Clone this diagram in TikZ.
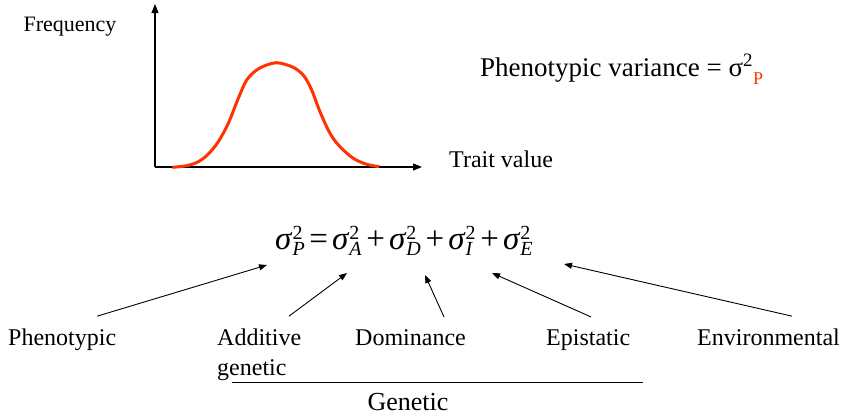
\documentclass[tikz,border=0pt]{standalone}
\usepackage{fontspec}
\setmainfont{Liberation Serif}
\usetikzlibrary{arrows.meta}
\definecolor{curvered}{HTML}{FF3300}
\newcommand{\sgm}[1]{\mbox{\textit{σ}}^{\mbox{\fontsize{20}{20}\selectfont 2}}_{\mbox{\fontsize{20}{20}\selectfont\textit{#1}}}}
\newcommand{\opsym}[1]{\mkern3mu\mbox{#1}\mkern3mu}
\begin{document}
\begin{tikzpicture}[x=1pt,y=-1pt,
 lbl/.style={anchor=base west, inner sep=0pt, font=\fontsize{24}{24}\selectfont},
 conn/.style={line width=0.9pt, -{Triangle[length=8pt,width=6pt]}},
 axisline/.style={line width=1.1pt, -{Triangle[length=9pt,width=7pt]}}]
\useasboundingbox (0,0) rectangle (864,416);
% axes
\coordinate (O) at (155,167);
\coordinate (ytop) at (155,4);
\coordinate (xend) at (422,167);
\draw[axisline] (O) -- (ytop);
\draw[axisline] (O) -- (xend);
\draw[curvered, line width=3pt] plot[smooth, tension=0.55] coordinates {
 (172.3,167.3) (186.7,165.7) (198.3,161.7) (208.3,154) (218.3,141.7) (228.3,123.3)
 (238.3,98.3) (246.7,80) (256.7,70) (266.7,65) (276,62.7) (285,64.3) (295,68.3)
 (304,76) (311.7,90) (320,111.7) (330,133.3) (340,146.7) (353.3,158.3)
 (366.7,164.3) (379.3,166.7)};
\node[font=\fontsize{22}{22}\selectfont, inner sep=0pt] (freq) at (70,27) {Frequency};
\node[lbl] (trait) at (449,167) {Trait value};
\node[anchor=base west, inner sep=0pt, font=\fontsize{27}{27}\selectfont] (pv) at (480,76)
 {Phenotypic variance = σ\textsuperscript{2}\raisebox{-0.3em}{\fontsize{18}{18}\selectfont\color{curvered}P}};
% equation
\node[anchor=base west, inner sep=0pt, font=\fontsize{33}{33}\selectfont] (eq) at (275,249)
 {$\sgm{P}\opsym{=}\sgm{A}\opsym{+}\sgm{D}\opsym{+}\sgm{I}\opsym{+}\sgm{E}$};
% labels
\node[lbl] (phen) at (8,345) {Phenotypic};
\node[lbl] (add) at (217,345) {Additive};
\node[lbl] (addg) at (217,375) {genetic};
\node[lbl] (dom) at (355,345) {Dominance};
\node[lbl] (epi) at (546,345) {Epistatic};
\node[lbl] (env) at (697,345) {Environmental};
\node[anchor=base, inner sep=0pt, font=\fontsize{26}{26}\selectfont] (gen) at (408,410) {Genetic};
\coordinate (gl) at (232,382);
\coordinate (gr) at (643,382);
\draw[line width=1pt] (gl) -- (gr);
% arrow heads
\coordinate (hP) at (267,265);
\coordinate (hA) at (347,273);
\coordinate (hD) at (425,275);
\coordinate (hI) at (492,273);
\coordinate (hE) at (564,264);
\draw[conn] ([shift={(35pt,12pt)}]phen.north) -- (hP);
\draw[conn] ([shift={(72pt,12pt)}]add.north west) -- (hA);
\draw[conn] ([shift={(89pt,12pt)}]dom.north west) -- (hD);
\draw[conn] ([shift={(45pt,12pt)}]epi.north west) -- (hI);
\draw[conn] ([shift={(95pt,12pt)}]env.north west) -- (hE);
\end{tikzpicture}
\end{document}
